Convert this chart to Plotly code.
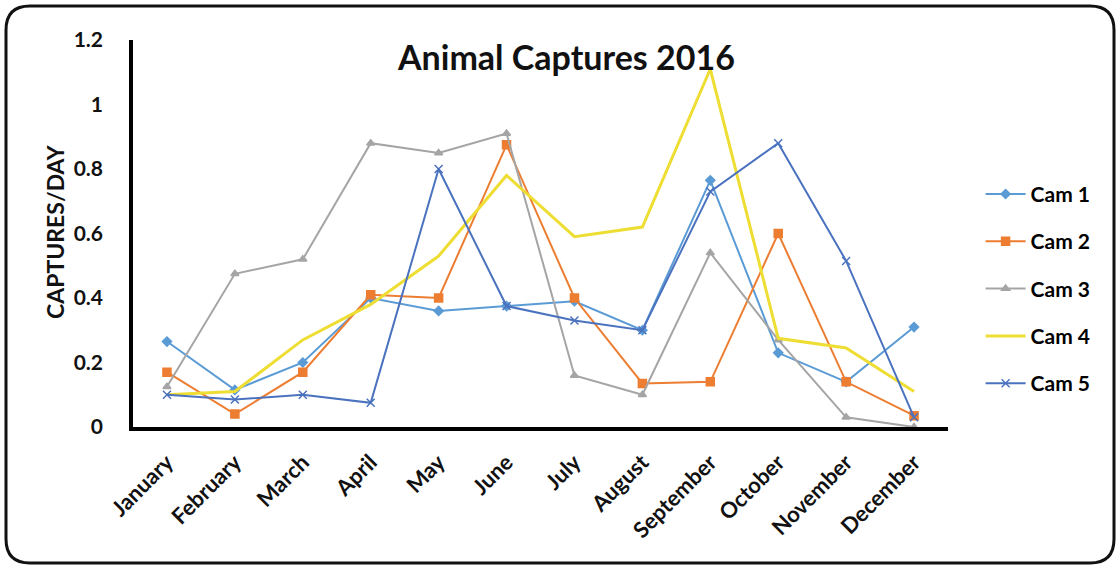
import plotly.graph_objects as go

# Monthly capture rates per camera
months = ["January", "February", "March", "April", "May", "June", "July",
          "August", "September", "October", "November", "December"]
cam1 = [0.265, 0.115, 0.20, 0.40, 0.36, 0.375, 0.39, 0.30, 0.765, 0.23, 0.14, 0.31]
cam2 = [0.17, 0.04, 0.17, 0.41, 0.40, 0.875, 0.40, 0.135, 0.14, 0.60, 0.14, 0.035]
cam3 = [0.125, 0.475, 0.52, 0.88, 0.85, 0.91, 0.16, 0.10, 0.54, 0.27, 0.03, 0.0]
cam4 = [0.10, 0.11, 0.27, 0.38, 0.53, 0.78, 0.59, 0.62, 1.11, 0.275, 0.245, 0.11]
cam5 = [0.10, 0.085, 0.10, 0.075, 0.80, 0.375, 0.33, 0.30, 0.73, 0.88, 0.515, 0.03]
series_names = ["Cam 1", "Cam 2", "Cam 3", "Cam 4", "Cam 5"]
y_ticks = [0, 0.2, 0.4, 0.6, 0.8, 1.0, 1.2]
y_tick_text = ["0", "0.2", "0.4", "0.6", "0.8", "1", "1.2"]

FONT = "Lato"

styles = [
    dict(color="#5B9BD5", symbol="diamond", size=7, width=2),
    dict(color="#ED7D31", symbol="square", size=8, width=2),
    dict(color="#A5A5A5", symbol="triangle-up", size=7, width=2),
    dict(color="#EEDD33", symbol=None, size=0, width=3),
    dict(color="#4A72BE", symbol="x-thin", size=8, width=2),
]

fig = go.Figure()
for i, (name, vals, st) in enumerate(zip(series_names, [cam1, cam2, cam3, cam4, cam5], styles)):
    if st["symbol"] is None:
        mode = "lines"
        marker = None
    else:
        mode = "lines+markers"
        marker = dict(symbol=st["symbol"], size=st["size"], color=st["color"],
                      line=dict(color=st["color"], width=1.5))
    fig.add_trace(go.Scatter(
        x=months, y=vals, name=name, mode=mode, marker=marker,
        line=dict(color=st["color"], width=st["width"]),
        legendgroup=f"g{i}",
    ))

# plot area in pixels: x 133..948, y 40..427
L, R, T, B = 133, 948, 40, 427
W, H = 1118, 568


def px(x):
    return (x - L) / (R - L)


def py(y):
    return (B - y) / (B - T)


# rounded outer frame
x0, x1, y0, y1, r = 6, 1114, 6, 563, 24
path = (
    f"M {px(x0 + r)},{py(y0)} L {px(x1 - r)},{py(y0)} "
    f"Q {px(x1)},{py(y0)} {px(x1)},{py(y0 + r)} "
    f"L {px(x1)},{py(y1 - r)} Q {px(x1)},{py(y1)} {px(x1 - r)},{py(y1)} "
    f"L {px(x0 + r)},{py(y1)} Q {px(x0)},{py(y1)} {px(x0)},{py(y1 - r)} "
    f"L {px(x0)},{py(y0 + r)} Q {px(x0)},{py(y0)} {px(x0 + r)},{py(y0)} Z"
)

fig.update_layout(
    width=W, height=H,
    margin=dict(l=L, r=W - R, t=T, b=H - B),
    paper_bgcolor="white", plot_bgcolor="white",
    font=dict(family=FONT, color="#000000"),
    showlegend=True,
    legend=dict(x=1.04, y=0.357, xanchor="left", yanchor="middle",
                font=dict(family=FONT, size=21, color="#000000", weight="bold"),
                tracegroupgap=17, itemwidth=40, bgcolor="rgba(0,0,0,0)"),
    shapes=[dict(type="path", xref="paper", yref="paper", path=path,
                 line=dict(color="#111111", width=3), fillcolor="rgba(0,0,0,0)")],
    annotations=[
        dict(text="<b>Animal Captures 2016</b>", xref="paper", yref="paper",
             x=px(566), y=py(56), xanchor="center", yanchor="middle",
             showarrow=False, font=dict(family=FONT, size=34, color="#111111")),
        dict(text="<b>CAPTURES/DAY</b>", xref="paper", yref="paper",
             x=px(55), y=py(232), xanchor="center", yanchor="middle",
             textangle=-90, showarrow=False,
             font=dict(family=FONT, size=23, color="#111111")),
    ],
)

fig.update_xaxes(
    type="category", range=[-0.5, 11.5], showgrid=False, zeroline=False,
    showline=True, linecolor="#000000", linewidth=3.5,
    tickangle=-45, ticks="", ticklabelstandoff=10,
    tickfont=dict(family=FONT, size=22, color="#111111", weight="bold"),
)
fig.update_yaxes(
    range=[0, 1.2], showgrid=False, zeroline=False,
    showline=True, linecolor="#000000", linewidth=3.5,
    tickvals=y_ticks, ticktext=y_tick_text, ticks="", ticklabelstandoff=22,
    tickfont=dict(family=FONT, size=21, color="#111111", weight="bold"),
)

fig.write_html("out.html")
